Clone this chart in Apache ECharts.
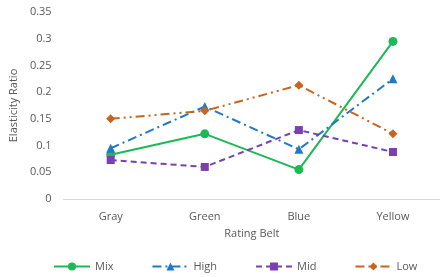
<!DOCTYPE html>
<html>
<head>
<meta charset="utf-8">
<script src="https://cdn.jsdelivr.net/npm/echarts@6/dist/echarts.min.js"></script>
<style>
  html, body { margin: 0; padding: 0; background: #fff; }
  #chart { width: 440px; height: 277px; }
</style>
</head>
<body>
<div id="chart"></div>
<script>
const belts = ["Gray", "Green", "Blue", "Yellow"];
const mix = [0.083, 0.122, 0.055, 0.295];
const high = [0.095, 0.173, 0.093, 0.225];
const mid = [0.073, 0.06, 0.129, 0.088];
const low = [0.15, 0.165, 0.213, 0.122];

const font = "'Open Sans', 'Noto Sans', sans-serif";
const txt = "#595959";

function line(name, data, color, dash, symbol, size) {
  return {
    name: name,
    type: "line",
    data: data,
    symbol: symbol,
    symbolSize: size,
    itemStyle: { color: color },
    lineStyle: { color: color, width: 2, type: dash },
    z: 2
  };
}

let myChart = echarts.init(document.getElementById("chart"));
myChart.setOption({
  animation: false,
  textStyle: { fontFamily: font },
  grid: { left: 58, right: 0, top: 12, bottom: 78 },
  legend: {
    bottom: 0,
    left: 48,
    itemWidth: 36,
    itemHeight: 10,
    itemGap: 38,
    textStyle: { color: txt, fontSize: 11, fontFamily: font },
    data: ["Mix", "High", "Mid", "Low"]
  },
  xAxis: {
    type: "category",
    data: belts,
    name: "Rating Belt",
    nameLocation: "middle",
    nameGap: 29,
    nameTextStyle: { color: txt, fontSize: 11 },
    axisLine: { lineStyle: { color: "#d9d9d9", width: 1 } },
    axisTick: { show: false },
    axisLabel: { color: txt, fontSize: 11, margin: 12 }
  },
  yAxis: {
    type: "value",
    min: 0,
    max: 0.35,
    interval: 0.05,
    name: "Elasticity Ratio",
    nameLocation: "middle",
    nameGap: 33,
    nameTextStyle: { color: txt, fontSize: 11 },
    splitLine: { show: false },
    axisLine: { show: false },
    axisTick: { show: false },
    axisLabel: { color: txt, fontSize: 11, margin: 12 }
  },
  series: [
    line("Mix", mix, "#1db954", "solid", "circle", 9),
    line("High", high, "#1f78c8", [9, 4, 2, 4], "triangle", 9),
    line("Mid", mid, "#7a3fb0", [6, 4], "rect", 8),
    line("Low", low, "#c8651b", [9, 4, 2, 4, 2, 4], "diamond", 9)
  ]
});
</script>
</body>
</html>
